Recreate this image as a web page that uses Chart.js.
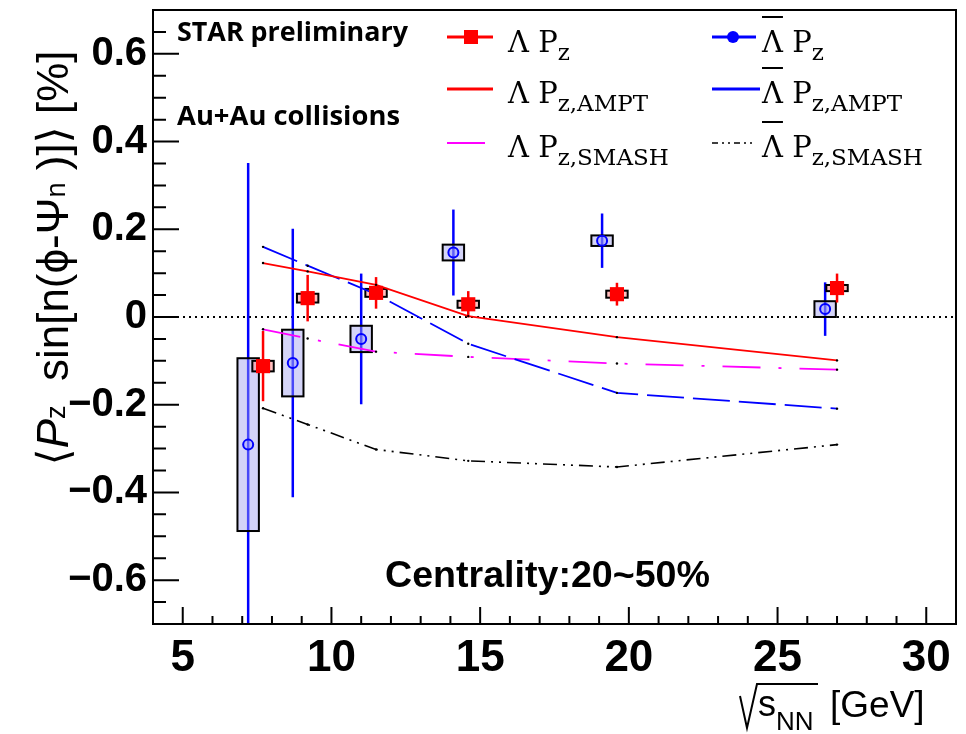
<!DOCTYPE html>
<html>
<head>
<meta charset="utf-8">
<script src="https://cdn.jsdelivr.net/npm/chart.js@4.4.1/dist/chart.umd.min.js"></script>
<style>
  html, body { margin: 0; padding: 0; background: #fff; }
  canvas { display: block; }
</style>
</head>
<body>
<canvas id="chart" width="966" height="734"></canvas>
<script>
// Lambda measurements
const lamE = [7.7, 9.2, 11.5, 14.6, 19.6, 27];
const lamPz = [-0.112, 0.043, 0.055, 0.029, 0.052, 0.066];
const lamStat = [0.080, 0.053, 0.036, 0.030, 0.026, 0.033];
const lamSys = [0.012, 0.010, 0.009, 0.008, 0.008, 0.007];

// anti-Lambda measurements (shifted left in energy)
const barE = [7.2, 8.7, 11.0, 14.1, 19.1, 26.6];
const barPz = [-0.291, -0.105, -0.050, 0.147, 0.174, 0.018];
const barStat = [0.642, 0.306, 0.149, 0.098, 0.062, 0.061];
const barSys = [0.197, 0.076, 0.030, 0.018, 0.012, 0.018];

// model curves
const modelE = [7.7, 9.2, 11.5, 14.6, 19.6, 27];
const amptLam = [0.123, 0.104, 0.073, 0.002, -0.046, -0.099];
const amptBar = [0.160, 0.117, 0.052, -0.061, -0.173, -0.209];
const smashLam = [-0.028, -0.049, -0.079, -0.091, -0.106, -0.120];
const smashBar = [-0.208, -0.245, -0.302, -0.328, -0.342, -0.291];

const xTicks = [5, 10, 15, 20, 25, 30];
const yTicks = [-0.6, -0.4, -0.2, 0, 0.2, 0.4, 0.6];

const pts = (xs, ys) => xs.map((x, i) => ({ x: x, y: ys[i] }));

const RED = '#ff0000', BLUE = '#0000ff', MAG = '#ff00ff';

// fit a font size so text hits a given width
const fitSize = (ctx, font, text, width) => {
    ctx.font = font(40);
    return 40 * width / ctx.measureText(text).width;
};

const drawSubText = (ctx, x, y, parts) => {
    // parts: [text, font, dy]
    let cx = x;
    parts.forEach(p => {
        ctx.font = p[1];
        ctx.fillText(p[0], cx, y + (p[2] || 0));
        cx += ctx.measureText(p[0]).width;
    });
    return cx;
};

const measureParts = (ctx, parts) => {
    let w = 0;
    parts.forEach(p => { ctx.font = p[1]; w += ctx.measureText(p[0]).width; });
    return w;
};

const decor = {
    id: 'decor',
    beforeDatasetsDraw(chart) {
        const { ctx, chartArea: a, scales: { x, y } } = chart;
        ctx.save();
        ctx.beginPath();
        ctx.rect(a.left, a.top, a.right - a.left, a.bottom - a.top);
        ctx.clip();

        // zero line
        ctx.strokeStyle = '#000';
        ctx.lineWidth = 2;
        ctx.setLineDash([2, 4]);
        ctx.beginPath();
        ctx.moveTo(a.left + 24, y.getPixelForValue(0));
        ctx.lineTo(a.right, y.getPixelForValue(0));
        ctx.stroke();
        ctx.setLineDash([]);

        const errBars = (es, vs, st, col, w) => {
            ctx.strokeStyle = col;
            ctx.lineWidth = w;
            es.forEach((e, i) => {
                const px = x.getPixelForValue(e);
                ctx.beginPath();
                ctx.moveTo(px, y.getPixelForValue(vs[i] + st[i]));
                ctx.lineTo(px, y.getPixelForValue(vs[i] - st[i]));
                ctx.stroke();
            });
        };
        const boxes = (es, vs, sy, fill) => {
            es.forEach((e, i) => {
                const x0 = x.getPixelForValue(e - 0.36), x1 = x.getPixelForValue(e + 0.36);
                const y0 = y.getPixelForValue(vs[i] + sy[i]), y1 = y.getPixelForValue(vs[i] - sy[i]);
                ctx.fillStyle = fill;
                ctx.fillRect(x0, y0, x1 - x0, y1 - y0);
                ctx.strokeStyle = '#000';
                ctx.lineWidth = 2;
                ctx.strokeRect(x0, y0, x1 - x0, y1 - y0);
            });
        };
        errBars(barE, barPz, barStat, BLUE, 2.5);
        boxes(barE, barPz, barSys, 'rgba(160,160,240,0.45)');
        errBars(lamE, lamPz, lamStat, RED, 2.5);
        boxes(lamE, lamPz, lamSys, 'rgba(255,150,150,0.6)');
        ctx.restore();
    },
    afterDraw(chart) {
        const { ctx, chartArea: a, scales: { x, y } } = chart;
        ctx.save();

        // frame
        ctx.strokeStyle = '#000';
        ctx.lineWidth = 2;
        ctx.strokeRect(a.left, a.top, a.right - a.left, a.bottom - a.top);

        // ticks inside the frame
        ctx.lineWidth = 2;
        ctx.beginPath();
        for (let v = 5; v <= 30; v++) {
            const px = x.getPixelForValue(v);
            const len = v % 5 === 0 ? 17 : 8;
            ctx.moveTo(px, a.bottom);
            ctx.lineTo(px, a.bottom - len);
        }
        for (let k = -13; k <= 13; k++) {
            const py = y.getPixelForValue(k * 0.05);
            const len = k % 4 === 0 ? 26 : 13;
            ctx.moveTo(a.left, py);
            ctx.lineTo(a.left + len, py);
        }
        ctx.stroke();

        // texts
        ctx.fillStyle = '#000';
        ctx.textBaseline = 'alphabetic';
        ctx.textAlign = 'left';
        const osb = s => `bold ${s}px "Open Sans"`;
        ctx.font = osb(fitSize(ctx, osb, 'STAR preliminary', 231));
        ctx.fillText('STAR preliminary', 177, 41);
        ctx.font = osb(fitSize(ctx, osb, 'Au+Au collisions', 223));
        ctx.fillText('Au+Au collisions', 177, 125);
        const lsb = s => `bold ${s}px "Liberation Sans"`;
        ctx.font = lsb(fitSize(ctx, lsb, 'Centrality:20~50%', 325));
        ctx.fillText('Centrality:20~50%', 385, 587);

        // legend
        const mainF = '29px "DejaVu Serif"';
        const subF = '23px "DejaVu Serif"';
        const rows = [52, 103, 157];
        const symY = [37, 89, 143];
        const subs = ['z', 'z,AMPT', 'z,SMASH'];
        const line = (x0, x1, yy, col, w, dash) => {
            ctx.strokeStyle = col;
            ctx.lineWidth = w;
            ctx.setLineDash(dash || []);
            ctx.beginPath();
            ctx.moveTo(x0, yy);
            ctx.lineTo(x1, yy);
            ctx.stroke();
            ctx.setLineDash([]);
        };
        line(447, 493, symY[0], RED, 3);
        ctx.fillStyle = RED;
        ctx.fillRect(464, symY[0] - 7, 14, 14);
        line(447, 493, symY[1], RED, 3);
        line(447, 485, symY[2], MAG, 2);
        line(712, 756, symY[0], BLUE, 3);
        ctx.fillStyle = BLUE;
        ctx.beginPath();
        ctx.arc(733, symY[0], 6, 0, Math.PI * 2);
        ctx.fill();
        line(712, 760, symY[1], BLUE, 3);
        line(712, 753, symY[2], '#000', 1.5, [6, 4, 2, 4, 2, 4]);

        ctx.fillStyle = '#000';
        rows.forEach((by, i) => {
            drawSubText(ctx, 508, by, [['Λ P', mainF], [subs[i], subF, 8]]);
            drawSubText(ctx, 762, by, [['Λ P', mainF], [subs[i], subF, 8]]);
            ctx.font = mainF;
            const lw = ctx.measureText('Λ').width;
            ctx.strokeStyle = '#000';
            ctx.lineWidth = 2;
            ctx.beginPath();
            ctx.moveTo(762, by - 35);
            ctx.lineTo(762 + lw, by - 35);
            ctx.stroke();
        });

        // y axis title
        const yt = '"Liberation Sans", "DejaVu Sans"';
        const mk = s => {
            const nF = `${s}px ${yt}`, iF = `italic ${s}px ${yt}`, sF = `${(s * 0.62).toFixed(1)}px ${yt}`;
            const d = -s * 0.06;
            return [['⟨', nF], ['P', iF], ['z', sF, d], ['  sin[n(ϕ-Ψ', nF], ['n', sF, d], [' )]⟩ [%]', nF]];
        };
        const s0 = 33 * 415 / measureParts(ctx, mk(33));
        const yParts = mk(s0);
        const tw = measureParts(ctx, yParts);
        ctx.save();
        ctx.translate(68, 258);
        ctx.rotate(-Math.PI / 2);
        drawSubText(ctx, -tw / 2, 0, yParts);
        ctx.restore();

        // x axis title with radical
        ctx.strokeStyle = '#000';
        ctx.lineWidth = 2;
        ctx.beginPath();
        ctx.moveTo(740, 696);
        ctx.lineTo(747, 728);
        ctx.lineTo(757, 684);
        ctx.lineTo(818, 684);
        ctx.stroke();
        ctx.fillStyle = '#000';
        drawSubText(ctx, 758, 716, [['s', `36px ${yt}`], ['NN', `26px ${yt}`, 14]]);
        ctx.font = `37px ${yt}`;
        ctx.fillText('[GeV]', 830, 717);

        ctx.restore();
    }
};

new Chart(document.getElementById('chart'), {
    type: 'scatter',
    data: {
        datasets: [
            {
                label: 'Λ Pz',
                data: pts(lamE, lamPz),
                pointStyle: 'rect',
                pointRadius: 10,
                pointBackgroundColor: RED,
                pointBorderColor: RED,
                pointBorderWidth: 0,
                order: 0
            },
            {
                label: 'anti-Λ Pz',
                data: pts(barE, barPz),
                pointStyle: 'circle',
                pointRadius: 5,
                pointBackgroundColor: 'rgba(140,140,255,0.35)',
                pointBorderColor: BLUE,
                pointBorderWidth: 2,
                order: 0
            },
            {
                label: 'Λ Pz,AMPT',
                data: pts(modelE, amptLam),
                showLine: true,
                borderColor: RED,
                borderWidth: 1.8,
                pointRadius: 1.2,
                pointBackgroundColor: '#000',
                pointBorderWidth: 0,
                order: 1
            },
            {
                label: 'anti-Λ Pz,AMPT',
                data: pts(modelE, amptBar),
                showLine: true,
                borderColor: BLUE,
                borderWidth: 1.8,
                borderDash: [37, 9],
                pointRadius: 1.2,
                pointBackgroundColor: '#000',
                pointBorderWidth: 0,
                order: 1
            },
            {
                label: 'Λ Pz,SMASH',
                data: pts(modelE, smashLam),
                showLine: true,
                borderColor: MAG,
                borderWidth: 1.8,
                borderDash: [38, 18, 3, 18],
                pointRadius: 1.2,
                pointBackgroundColor: '#000',
                pointBorderWidth: 0,
                order: 1
            },
            {
                label: 'anti-Λ Pz,SMASH',
                data: pts(modelE, smashBar),
                showLine: true,
                borderColor: '#000',
                borderWidth: 1.6,
                borderDash: [14, 6, 2, 6, 2, 6],
                pointRadius: 1.2,
                pointBackgroundColor: '#000',
                pointBorderWidth: 0,
                order: 1
            }
        ]
    },
    options: {
        responsive: false,
        animation: false,
        devicePixelRatio: 1,
        layout: { padding: { top: 8, right: 2, bottom: 0, left: 0 } },
        plugins: {
            legend: { display: false },
            tooltip: { enabled: false }
        },
        scales: {
            x: {
                type: 'linear',
                min: 4,
                max: 31,
                afterFit: s => { s.height = 110; s.paddingLeft = 0; s.paddingRight = 0; },
                afterBuildTicks: s => { s.ticks = xTicks.map(v => ({ value: v })); },
                grid: { display: false, drawTicks: false },
                border: { display: false },
                ticks: {
                    color: '#000',
                    padding: 8,
                    maxRotation: 0,
                    autoSkip: false,
                    font: { family: '"Liberation Sans Narrow", "Liberation Sans"', weight: 'bold', size: 44 }
                }
            },
            y: {
                min: -0.7,
                max: 0.7,
                afterFit: s => { s.width = 153; s.paddingTop = 0; s.paddingBottom = 0; },
                afterBuildTicks: s => { s.ticks = yTicks.map(v => ({ value: v })); },
                grid: { display: false, drawTicks: false },
                border: { display: false },
                ticks: {
                    color: '#000',
                    padding: 6,
                    autoSkip: false,
                    font: { family: '"Liberation Sans"', weight: 'bold', size: 40 },
                    callback: v => v === 0 ? '0' : (v < 0 ? '\u2212' : '') + Math.abs(v).toFixed(1)
                }
            }
        }
    },
    plugins: [decor]
});
</script>
</body>
</html>
